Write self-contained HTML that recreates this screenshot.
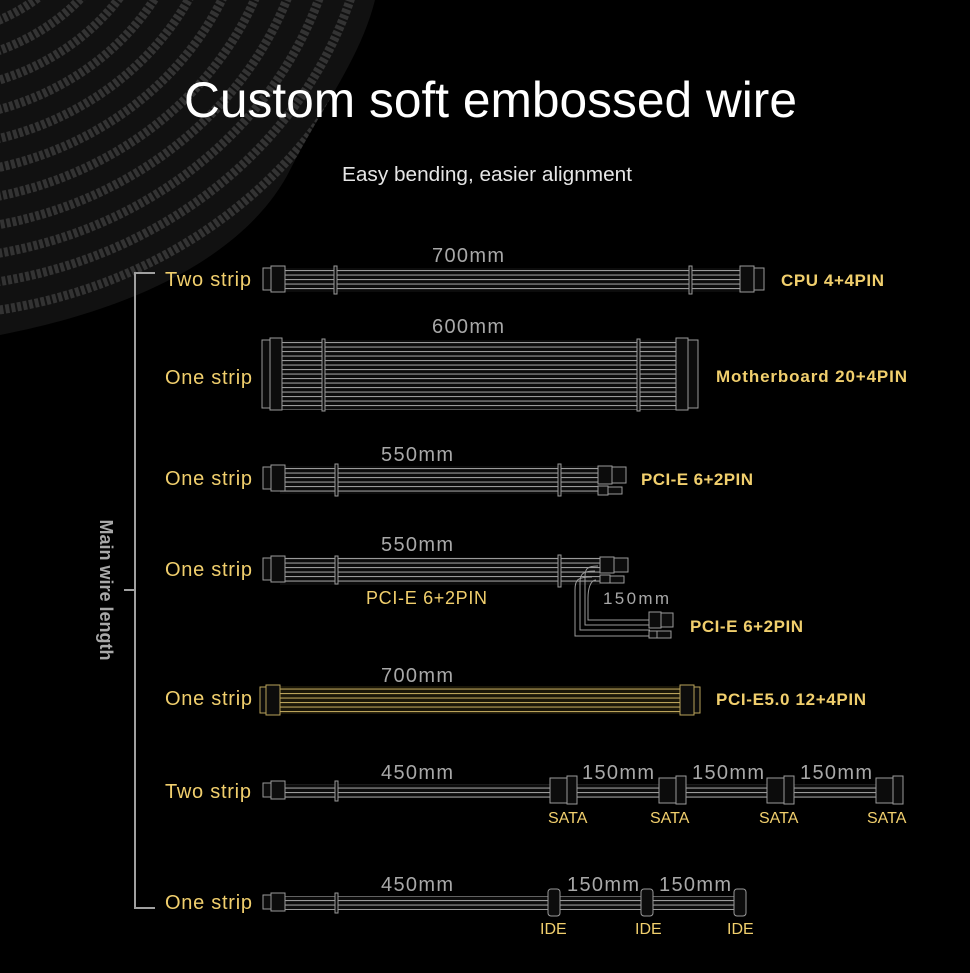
<!DOCTYPE html>
<html><head><meta charset="utf-8"><style>
html,body{margin:0;padding:0;background:#000;}
svg{display:block}
.y{fill:#f1cf6d;font-family:"Liberation Sans",sans-serif;}
.g{fill:#a8a8a8;font-family:"Liberation Sans",sans-serif;}
</style></head><body>
<svg width="970" height="973" viewBox="0 0 970 973" xmlns="http://www.w3.org/2000/svg">
<defs>
<pattern id="w" patternUnits="userSpaceOnUse" width="10" height="4.5"><rect width="10" height="4.5" fill="#0c0c0c"/><rect width="10" height="1.1" fill="#9a9a9a"/></pattern>
<pattern id="wy" patternUnits="userSpaceOnUse" width="10" height="4.5"><rect width="10" height="4.5" fill="#1a1608"/><rect width="10" height="1.1" fill="#b9a25a"/></pattern>
<clipPath id="coil"><path d="M0 0 H375 C360 60 320 110 290 170 C260 230 180 300 0 335 Z"/></clipPath>
</defs>
<rect width="970" height="973" fill="#000"/>
<g clip-path="url(#coil)">
<rect width="420" height="380" fill="#111"/>
<g fill="none" stroke="#333" stroke-width="9" stroke-dasharray="4 2">
<ellipse cx="-80" cy="-120" rx="120" ry="100"/>
<ellipse cx="-80" cy="-120" rx="150" ry="128"/>
<ellipse cx="-80" cy="-120" rx="180" ry="156"/>
<ellipse cx="-80" cy="-120" rx="210" ry="184"/>
<ellipse cx="-80" cy="-120" rx="240" ry="212"/>
<ellipse cx="-80" cy="-120" rx="270" ry="240"/>
<ellipse cx="-80" cy="-120" rx="300" ry="268"/>
<ellipse cx="-80" cy="-120" rx="330" ry="296"/>
<ellipse cx="-80" cy="-120" rx="360" ry="324"/>
<ellipse cx="-80" cy="-120" rx="390" ry="352"/>
<ellipse cx="-80" cy="-120" rx="420" ry="380"/>
<ellipse cx="-80" cy="-120" rx="450" ry="408"/>
<ellipse cx="-80" cy="-120" rx="480" ry="436"/>
</g>
</g>
<text x="184" y="117" fill="#fff" font-family="Liberation Sans,sans-serif" font-size="50" textLength="613" lengthAdjust="spacingAndGlyphs">Custom soft embossed wire</text>
<text x="342" y="181" fill="#e6e6e6" font-family="Liberation Sans,sans-serif" font-size="20" textLength="290" lengthAdjust="spacingAndGlyphs">Easy bending, easier alignment</text>

<g stroke="#a0a0a0" stroke-width="2" fill="none">
<path d="M155 273 H135 V908 H155"/><path d="M124 590 H135"/>
</g>
<text class="g" font-weight="bold" font-size="18" transform="translate(100,590) rotate(90)" text-anchor="middle">Main wire length</text>

<g font-size="20">
<text class="y" x="165" y="286" textLength="86">Two strip</text>
<text class="y" x="165" y="384" textLength="87">One strip</text>
<text class="y" x="165" y="485" textLength="87">One strip</text>
<text class="y" x="165" y="576" textLength="87">One strip</text>
<text class="y" x="165" y="705" textLength="87">One strip</text>
<text class="y" x="165" y="798" textLength="86">Two strip</text>
<text class="y" x="165" y="909" textLength="87">One strip</text>
</g>
<g font-size="17" font-weight="bold">
<text class="y" x="781" y="286" textLength="103">CPU 4+4PIN</text>
<text class="y" x="716" y="382" textLength="191">Motherboard 20+4PIN</text>
<text class="y" x="641" y="485" textLength="112">PCI-E 6+2PIN</text>
<text class="y" x="690" y="632" textLength="113">PCI-E 6+2PIN</text>
<text class="y" x="716" y="705" textLength="150">PCI-E5.0 12+4PIN</text>
</g>
<text class="y" x="366" y="604" font-size="18" textLength="121">PCI-E 6+2PIN</text>
<g font-size="16">
<text class="y" x="548" y="823">SATA</text><text class="y" x="650" y="823">SATA</text><text class="y" x="759" y="823">SATA</text><text class="y" x="867" y="823">SATA</text>
<text class="y" x="540" y="934">IDE</text><text class="y" x="635" y="934">IDE</text><text class="y" x="727" y="934">IDE</text>
</g>
<g font-size="20">
<text class="g" x="432" y="262" textLength="72">700mm</text>
<text class="g" x="432" y="333" textLength="72">600mm</text>
<text class="g" x="381" y="461" textLength="72">550mm</text>
<text class="g" x="381" y="551" textLength="72">550mm</text>
<text class="g" x="603" y="604" font-size="17" textLength="66">150mm</text>
<text class="g" x="381" y="682" textLength="72">700mm</text>
<text class="g" x="381" y="779" textLength="72">450mm</text>
<text class="g" x="582" y="779" textLength="72">150mm</text><text class="g" x="692" y="779" textLength="72">150mm</text><text class="g" x="800" y="779" textLength="72">150mm</text>
<text class="g" x="381" y="891" textLength="72">450mm</text>
<text class="g" x="567" y="891" textLength="72">150mm</text><text class="g" x="659" y="891" textLength="72">150mm</text>
</g>

<g stroke="#9a9a9a" stroke-width="1" fill="#0c0c0c">
<rect x="280" y="268" width="470" height="24" fill="url(#w)" stroke="none"/>
<rect x="263" y="268" width="8" height="22"/><rect x="271" y="266" width="14" height="26"/>
<rect x="334" y="266" width="3" height="28"/><rect x="689" y="266" width="3" height="28"/>
<rect x="740" y="266" width="14" height="26"/><rect x="754" y="268" width="10" height="22"/>
<rect x="280" y="340" width="400" height="70" fill="url(#w)" stroke="none"/>
<rect x="262" y="340" width="8" height="68"/><rect x="270" y="338" width="12" height="72"/>
<rect x="322" y="339" width="3" height="72"/><rect x="637" y="339" width="3" height="72"/>
<rect x="676" y="338" width="12" height="72"/><rect x="688" y="340" width="10" height="68"/>
<rect x="280" y="466" width="320" height="28" fill="url(#w)" stroke="none"/>
<rect x="263" y="467" width="8" height="22"/><rect x="271" y="465" width="14" height="26"/>
<rect x="335" y="464" width="3" height="32"/><rect x="558" y="464" width="3" height="32"/>
<rect x="598" y="466" width="14" height="18"/><rect x="612" y="467" width="14" height="16"/>
<rect x="598" y="486" width="10" height="9"/><rect x="608" y="487" width="14" height="7"/>
<rect x="280" y="557" width="320" height="28" fill="url(#w)" stroke="none"/>
<rect x="263" y="558" width="8" height="22"/><rect x="271" y="556" width="14" height="26"/>
<rect x="335" y="556" width="3" height="28"/><rect x="558" y="555" width="3" height="32"/>
<rect x="600" y="557" width="14" height="16"/><rect x="614" y="558" width="14" height="14"/>
<rect x="600" y="575" width="10" height="8"/><rect x="610" y="576" width="14" height="7"/>
<path d="M598 566 C585 566 585 570 585 580 V625 H650 M595 571 C580 571 580 576 580 585 V630 H650 M592 577 C577 577 575 580 575 590 V636 H650 M596 580 C590 580 588 590 588 598 V620 H650" fill="none"/>
<rect x="649" y="612" width="12" height="16"/><rect x="661" y="613" width="12" height="14"/>
<rect x="649" y="631" width="8" height="7"/><rect x="657" y="631" width="14" height="7"/>
</g>
<g stroke="#b9a25a" stroke-width="1" fill="#0c0c0c">
<rect x="280" y="686" width="400" height="28" fill="url(#wy)" stroke="none"/>
<rect x="260" y="687" width="6" height="26"/><rect x="266" y="685" width="14" height="30"/>
<rect x="680" y="685" width="14" height="30"/><rect x="694" y="687" width="6" height="26"/>
</g>
<g stroke="#9a9a9a" stroke-width="1" fill="#0c0c0c">
<rect x="280" y="784" width="600" height="14" fill="url(#w)" stroke="none"/>
<rect x="263" y="783" width="8" height="14"/><rect x="271" y="781" width="14" height="18"/>
<rect x="335" y="781" width="3" height="20"/>
<rect x="550" y="778" width="17" height="25"/><rect x="567" y="776" width="10" height="28"/>
<rect x="659" y="778" width="17" height="25"/><rect x="676" y="776" width="10" height="28"/>
<rect x="767" y="778" width="17" height="25"/><rect x="784" y="776" width="10" height="28"/>
<rect x="876" y="778" width="17" height="25"/><rect x="893" y="776" width="10" height="28"/>
<rect x="280" y="896" width="460" height="14" fill="url(#w)" stroke="none"/>
<rect x="263" y="895" width="8" height="14"/><rect x="271" y="893" width="14" height="18"/>
<rect x="335" y="893" width="3" height="20"/>
<rect x="548" y="889" width="12" height="27" rx="3"/>
<rect x="641" y="889" width="12" height="27" rx="3"/>
<rect x="734" y="889" width="12" height="27" rx="3"/>
</g>
</svg>
</body></html>
